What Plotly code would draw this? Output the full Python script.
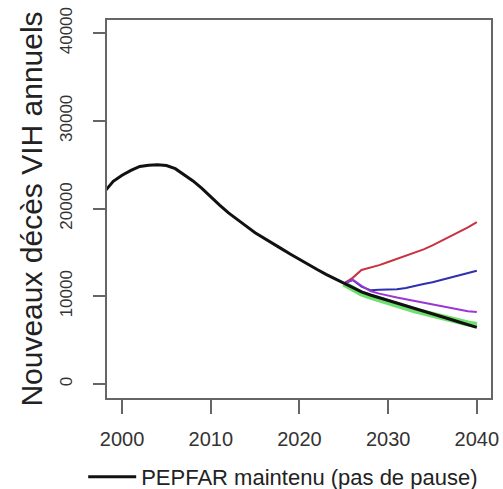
import plotly.graph_objects as go

years_hist = list(range(1998, 2041))
black_vals = [21900, 23100, 23800, 24350, 24800, 24950, 25000, 24900, 24550, 23900,
              23150, 22300, 21300, 20400, 19500, 18700, 18000, 17250, 16600, 16000,
              15400, 14800, 14200, 13600, 13050, 12500, 12000, 11450, 10950, 10500,
              10150, 9850, 9550, 9200, 8900, 8600, 8300, 7980, 7680, 7380,
              7060, 6750, 6450]

years_proj = list(range(2025, 2041))
red_vals = [11450, 12100, 13000, 13250, 13550, 13900, 14250, 14600, 14950, 15350,
            15800, 16300, 16800, 17300, 17850, 18450]
blue_vals = [11450, 11850, 11100, 10700, 10750, 10750, 10800, 10950, 11200, 11400,
             11600, 11850, 12100, 12350, 12650, 12900]
purple_vals = [11450, 11900, 11200, 10600, 10300, 10050, 9850, 9650, 9450, 9250,
               9050, 8850, 8650, 8450, 8300, 8200]
green_vals = [11450, 10800, 10300, 9950, 9600, 9330, 9000, 8700, 8400, 8120,
              7850, 7580, 7330, 7100, 6900, 6720]

x_ticks = [2000, 2010, 2020, 2030, 2040]
x_labels = ["2000", "2010", "2020", "2030", "2040"]
y_ticks = [0, 10000, 20000, 30000, 40000]
y_labels = ["0", "10000", "20000", "30000", "40000"]

fig = go.Figure()
fig.add_trace(go.Scatter(x=years_proj, y=green_vals, mode="lines",
                         line=dict(color="#6fe06f", width=6), showlegend=False))
fig.add_trace(go.Scatter(x=years_proj, y=red_vals, mode="lines",
                         line=dict(color="#c8323f", width=2), showlegend=False))
fig.add_trace(go.Scatter(x=years_proj, y=blue_vals, mode="lines",
                         line=dict(color="#2f2fb0", width=2), showlegend=False))
fig.add_trace(go.Scatter(x=years_proj, y=purple_vals, mode="lines",
                         line=dict(color="#9b35d6", width=2), showlegend=False))
fig.add_trace(go.Scatter(x=years_hist, y=black_vals, mode="lines",
                         line=dict(color="#111111", width=3),
                         name="PEPFAR maintenu (pas de pause)", showlegend=True))

font_family = "Liberation Sans, Arial, sans-serif"
fig.update_layout(
    width=503, height=489,
    margin=dict(l=107, r=12, t=20, b=91, autoexpand=False),
    paper_bgcolor="white", plot_bgcolor="white",
    font=dict(family=font_family, color="#222222"),
    showlegend=True,
    legend=dict(orientation="h", x=-0.062, xanchor="left", y=-0.209, yanchor="middle",
                itemwidth=48,
                font=dict(size=22, color="#222222"), bgcolor="rgba(0,0,0,0)"),
    xaxis=dict(range=[1998.3, 2041.6], tickvals=x_ticks, ticktext=x_labels,
               showgrid=False, zeroline=False, automargin=False,
               showline=True, mirror=True, linecolor="#666666", linewidth=1.5,
               ticks="outside", ticklen=14, tickwidth=1.5, tickcolor="#666666",
               tickfont=dict(size=20, color="#333333"), ticklabelstandoff=8),
    yaxis=dict(range=[-1600, 41500], tickvals=y_ticks, ticktext=y_labels,
               showgrid=False, zeroline=False, automargin=False,
               showline=True, mirror=True, linecolor="#666666", linewidth=1.5,
               ticks="outside", ticklen=12, tickwidth=1.5, tickcolor="#666666",
               tickangle=-90, tickfont=dict(size=17, color="#333333"),
               ticklabelstandoff=14,
               title=dict(text="Nouveaux décès VIH annuels", font=dict(size=30, color="#222222"),
                          standoff=6)),
)

fig.write_html("out.html", config={"displayModeBar": False},
               post_script="document.body.style.margin='0';")
